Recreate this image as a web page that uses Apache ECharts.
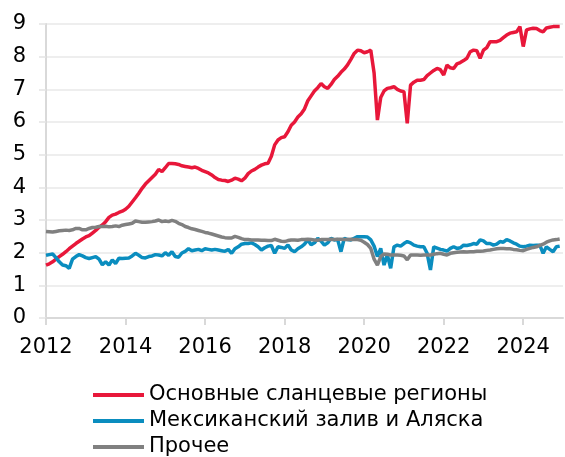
<!DOCTYPE html>
<html>
<head>
<meta charset="utf-8">
<script src="https://cdn.jsdelivr.net/npm/echarts@6/dist/echarts.min.js"></script>
<style>
    html, body { margin: 0; padding: 0; background: #fff; }
    #chart { width: 565px; height: 457px; }
</style>
</head>
<body>
<div id="chart"></div>
<script>
// месяцы: янв 2012 .. янв 2025
var months = [];
for (var y = 2012; y <= 2025; y++) {
    for (var m = 1; m <= 12; m++) {
        if (y == 2025 && m > 1) break;
        months.push(y + '-' + (m < 10 ? '0' + m : m));
    }
}

var seriesNames = ['Основные сланцевые регионы', 'Мексиканский залив и Аляска', 'Прочее'];
var seriesColors = ['#e8173a', '#0a8dbf', '#808080'];
var yTicks = [0, 1, 2, 3, 4, 5, 6, 7, 8, 9];

// Основные сланцевые регионы
var shale = [
    1.62, 1.66, 1.72, 1.80, 1.88, 1.95, 2.03, 2.12, 2.20, 2.28, 2.35, 2.42,
    2.48, 2.52, 2.60, 2.68, 2.78, 2.85, 2.95, 3.08, 3.15, 3.18, 3.23, 3.27,
    3.33, 3.42, 3.55, 3.68, 3.82, 3.97, 4.10, 4.20, 4.30, 4.40, 4.55, 4.48,
    4.60, 4.73, 4.73, 4.72, 4.70, 4.66, 4.64, 4.62, 4.60, 4.62, 4.58, 4.52,
    4.48, 4.44, 4.38, 4.30, 4.24, 4.22, 4.21, 4.18, 4.22, 4.28, 4.25, 4.20,
    4.28, 4.42, 4.50, 4.55, 4.62, 4.68, 4.72, 4.74, 4.95, 5.30, 5.45, 5.52,
    5.55, 5.70, 5.90, 6.00, 6.15, 6.25, 6.40, 6.65, 6.80, 6.95, 7.05, 7.18,
    7.08, 7.03, 7.15, 7.30, 7.40, 7.52, 7.62, 7.75, 7.92, 8.10, 8.20, 8.18,
    8.12, 8.15, 8.20, 7.50, 6.06, 6.75, 6.95, 7.03, 7.05, 7.08, 7.00, 6.95,
    6.93, 5.96, 7.13, 7.22, 7.28, 7.28, 7.30, 7.42, 7.50, 7.58, 7.64, 7.60,
    7.44, 7.74, 7.66, 7.64, 7.78, 7.82, 7.88, 7.95, 8.15, 8.20, 8.18, 7.95,
    8.20, 8.28, 8.46, 8.46, 8.46, 8.50, 8.58, 8.66, 8.72, 8.74, 8.76, 8.92,
    8.31, 8.82, 8.85, 8.87, 8.86, 8.80, 8.76, 8.88, 8.90, 8.92, 8.92, 8.92
];
// Мексиканский залив и Аляска
var gulf = [
    1.92, 1.94, 1.96, 1.85, 1.72, 1.62, 1.60, 1.52, 1.80, 1.88, 1.94, 1.90,
    1.85, 1.82, 1.85, 1.88, 1.80, 1.63, 1.72, 1.62, 1.78, 1.67, 1.83, 1.82,
    1.83, 1.84, 1.90, 1.98, 1.92, 1.85, 1.84, 1.88, 1.90, 1.94, 1.93, 1.90,
    2.00, 1.92, 2.03, 1.88, 1.86, 1.99, 2.04, 2.12, 2.06, 2.08, 2.10, 2.06,
    2.12, 2.10, 2.08, 2.10, 2.08, 2.06, 2.04, 2.10, 1.98, 2.12, 2.18, 2.26,
    2.28, 2.28, 2.30, 2.25, 2.18, 2.08, 2.15, 2.20, 2.22, 1.98, 2.18, 2.16,
    2.13, 2.24, 2.08, 2.03, 2.12, 2.18, 2.26, 2.39, 2.24, 2.30, 2.44, 2.35,
    2.23, 2.30, 2.44, 2.39, 2.40, 2.03, 2.44, 2.40, 2.39, 2.44, 2.49, 2.49,
    2.49, 2.48, 2.39, 2.20, 1.88, 2.13, 1.62, 1.93, 1.52, 2.18, 2.23, 2.20,
    2.28, 2.34, 2.30, 2.23, 2.20, 2.18, 2.18, 1.98, 1.47, 2.18, 2.14, 2.10,
    2.08, 2.05, 2.13, 2.18, 2.13, 2.15, 2.23, 2.22, 2.24, 2.28, 2.26, 2.39,
    2.36, 2.28, 2.28, 2.23, 2.26, 2.34, 2.32, 2.40, 2.36, 2.30, 2.26, 2.20,
    2.18, 2.20, 2.23, 2.22, 2.23, 2.23, 1.98, 2.18, 2.10, 2.03, 2.18, 2.20
];
// Прочее
var other = [
    2.65, 2.64, 2.63, 2.65, 2.67, 2.68, 2.69, 2.68, 2.70, 2.74, 2.74, 2.70,
    2.70, 2.74, 2.77, 2.78, 2.80, 2.80, 2.81, 2.79, 2.80, 2.82, 2.80, 2.84,
    2.86, 2.88, 2.90, 2.97, 2.95, 2.93, 2.93, 2.94, 2.95, 2.97, 3.00, 2.95,
    2.97, 2.95, 2.99, 2.96, 2.90, 2.86, 2.80, 2.77, 2.73, 2.71, 2.68, 2.65,
    2.62, 2.60, 2.57, 2.54, 2.51, 2.48, 2.46, 2.45, 2.45, 2.50, 2.47, 2.43,
    2.40, 2.40, 2.39, 2.39, 2.39, 2.38, 2.38, 2.37, 2.37, 2.41, 2.38, 2.35,
    2.34, 2.37, 2.39, 2.39, 2.38, 2.40, 2.40, 2.41, 2.40, 2.39, 2.38, 2.40,
    2.40, 2.40, 2.41, 2.40, 2.41, 2.41, 2.40, 2.40, 2.41, 2.40, 2.40, 2.38,
    2.32, 2.25, 2.13, 1.80, 1.62, 1.88, 1.96, 1.95, 1.93, 1.93, 1.93, 1.92,
    1.90, 1.78, 1.93, 1.93, 1.93, 1.92, 1.93, 1.93, 1.93, 1.95, 1.97, 1.98,
    1.95, 1.93, 1.98, 2.00, 2.01, 2.02, 2.03, 2.02, 2.03, 2.03, 2.04, 2.04,
    2.05, 2.07, 2.08, 2.10, 2.12, 2.13, 2.13, 2.12, 2.12, 2.10, 2.09, 2.07,
    2.06, 2.10, 2.13, 2.16, 2.18, 2.22, 2.26, 2.32, 2.36, 2.39, 2.40, 2.42
];

var fontName = '"DejaVu Sans", "Liberation Sans", Arial, sans-serif';
var myChart = echarts.init(document.getElementById('chart'), null, { renderer: 'canvas' });

// подписи только для января чётных лет
function everyTwoYears(index) {
    return index % 24 === 0;
}

var allData = [shale, gulf, other];
var series = [];
for (var i = 0; i < seriesNames.length; i++) {
    series.push({
        name: seriesNames[i],
        type: 'line',
        data: allData[i],
        showSymbol: false,
        symbol: 'none',
        lineStyle: { color: seriesColors[i], width: 3.5 },
        itemStyle: { color: seriesColors[i] }
    });
}

var option = {
    animation: false,
    backgroundColor: '#fff',
    grid: { left: 46, right: 2, top: 24, bottom: 139, containLabel: false },
    xAxis: {
        type: 'category',
        data: months,
        boundaryGap: false,
        axisLine: { lineStyle: { color: '#d9d9d9', width: 2 } },
        axisTick: { show: true, interval: everyTwoYears, length: 7, lineStyle: { color: '#d9d9d9', width: 2 } },
        axisLabel: {
            interval: everyTwoYears,
            margin: 19,
            color: '#000',
            fontSize: 21,
            fontFamily: fontName,
            formatter: function(value) {
                return value.slice(0, 4);
            }
        },
        splitLine: { show: false }
    },
    yAxis: {
        type: 'value',
        min: yTicks[0],
        max: yTicks[yTicks.length - 1],
        interval: 1,
        axisLine: { show: true, lineStyle: { color: '#d9d9d9', width: 2 } },
        axisTick: { show: true, length: 7, lineStyle: { color: '#e3e3e3', width: 1.5 } },
        axisLabel: { margin: 20, color: '#000', fontSize: 21, fontFamily: fontName },
        splitLine: { lineStyle: { color: '#e8e8e8', width: 1.5 } }
    },
    legend: {
        orient: 'vertical',
        left: 88,
        top: 379,
        height: 100,
        icon: 'rect',
        itemWidth: 51,
        itemHeight: 4,
        itemGap: 4,
        textStyle: { color: '#000', fontSize: 21, fontFamily: fontName, lineHeight: 22 },
        data: seriesNames
    },
    series: series
};

myChart.setOption(option);
</script>
</body>
</html>
